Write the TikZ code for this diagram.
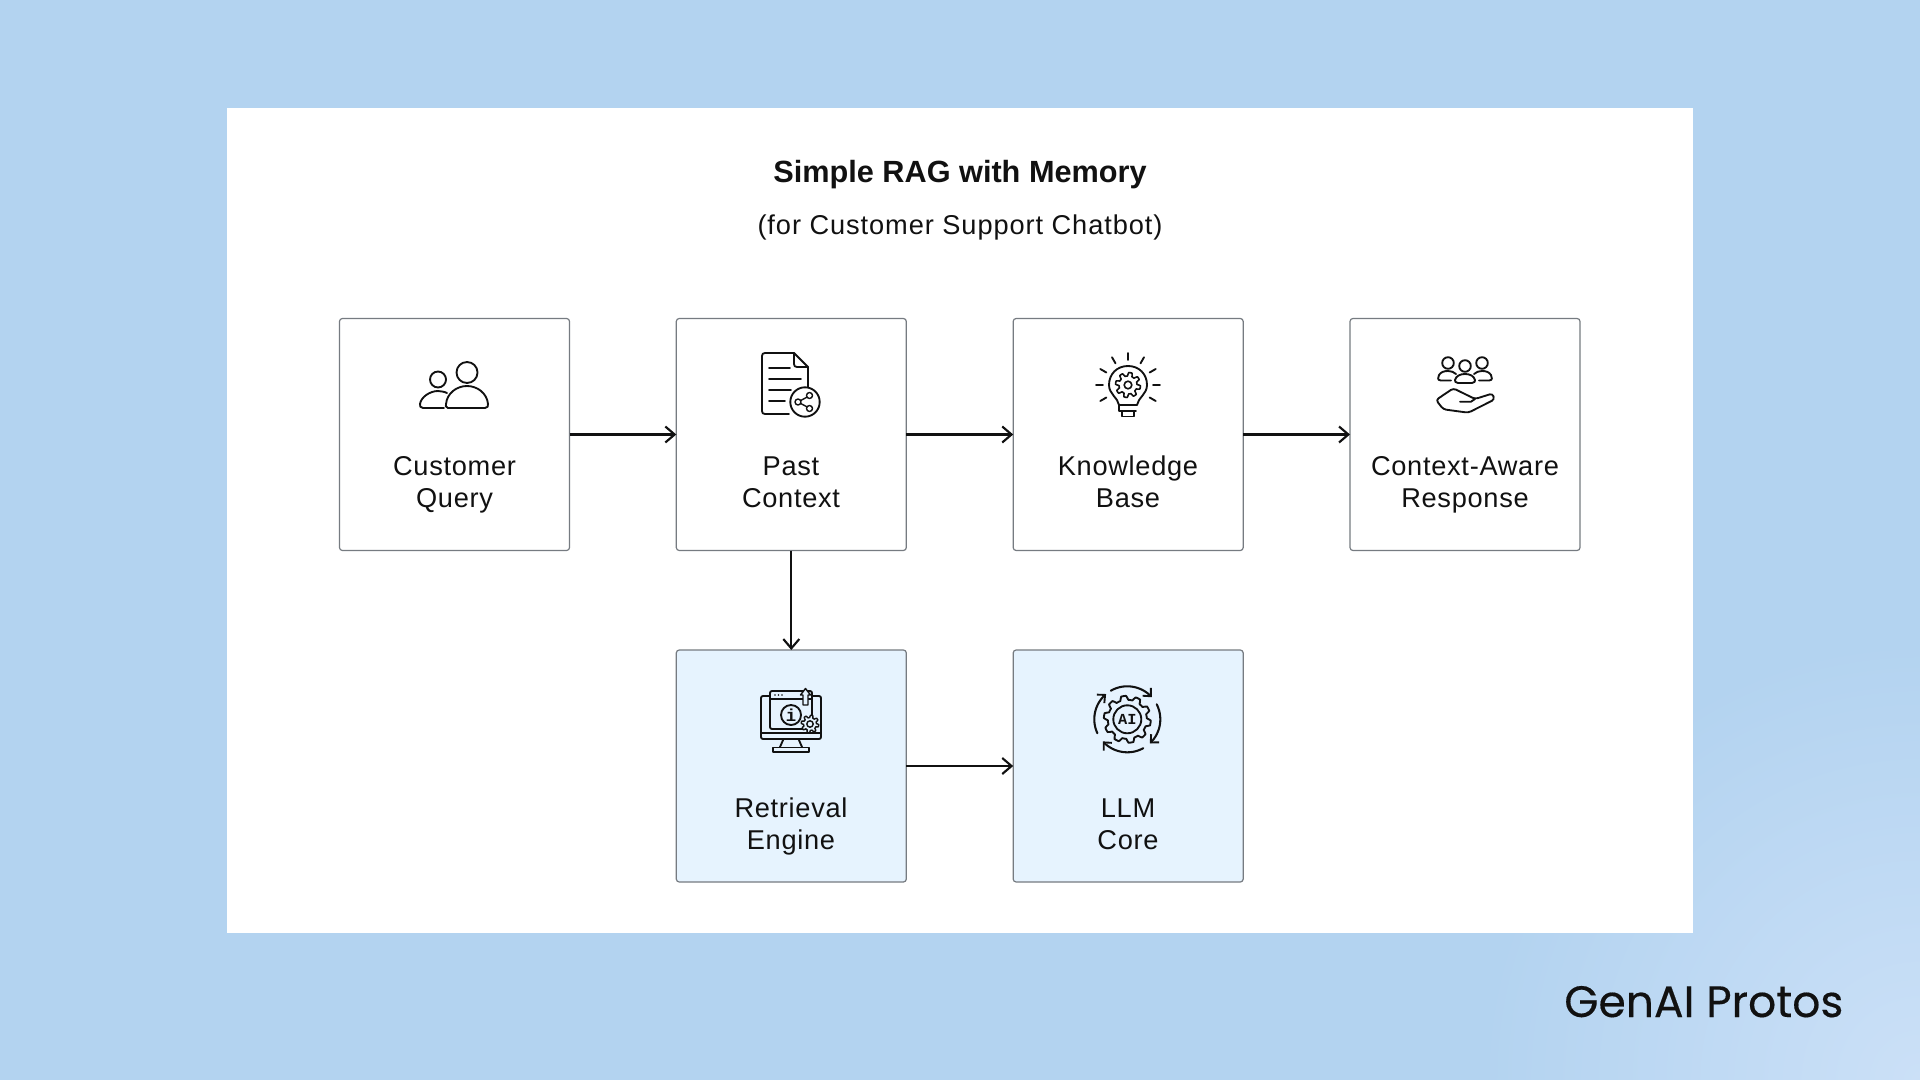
\documentclass[tikz,border=0pt]{standalone}
\usepackage{fontspec}
\setmainfont{Liberation Sans}
\setmonofont{Liberation Mono}
\newfontfamily\logofont[FakeBold=0.35]{Poppins}
\newfontfamily\labelfont[LetterSpace=2.6]{Liberation Sans}
\newfontfamily\subfont[LetterSpace=3.4]{Liberation Sans}
\usetikzlibrary{arrows.meta}
\definecolor{bgblue}{RGB}{179,211,240}
\definecolor{cornerblue}{RGB}{203,224,247}
\definecolor{lowbox}{RGB}{230,243,254}
\definecolor{edgegray}{RGB}{118,123,129}
\definecolor{inkc}{RGB}{17,17,17}
\tikzset{
  x=0.75pt,y=-0.75pt,
  boxbase/.style={draw=edgegray,line width=0.9pt,rounded corners=2.2pt,minimum width=172.5pt,minimum height=174pt,outer sep=0pt,inner sep=0pt},
  topbox/.style={boxbase,fill=white},
  lowerbox/.style={boxbase,fill=lowbox},
  lbl/.style={text=inkc,font=\labelfont\fontsize{20.4pt}{24pt}\selectfont,anchor=base,inner sep=0pt},
  conn/.style={draw=inkc,line width=1.7pt,-{Straight Barb[length=7pt,width=12pt,line width=1.6pt]}},
  icon/.style={draw=inkc,line width=1.4pt,line cap=round,line join=round},
  thinicon/.style={draw=inkc,line width=1.05pt,line cap=round,line join=round},
}
% #1 x, #2 y, #3 outer radius, #4 root radius, #5 teeth, #6 style
\newcommand{\gearicon}[6]{%
  \draw[#6] plot[domain=0:360,samples=\numexpr #5*12+1\relax]
    ({#1+(#4+(#3-#4)*max(0,min(1,0.5+1.6*sin(#5*\x))))*cos(\x)},
     {#2+(#4+(#3-#4)*max(0,min(1,0.5+1.6*sin(#5*\x))))*sin(\x)}) -- cycle;}
% #1 start angle, #2 end angle (both y up), about the AI icon
\newcommand{\aiarc}[2]{%
  \draw[icon,line width=1.55pt,-{Straight Barb[length=4.5pt,width=8.5pt,line width=1.4pt]}]
    plot[domain=#1:#2,samples=30] ({1127.3+33*cos(\x)},{719.3-33*sin(\x)});}
\begin{document}
\begin{tikzpicture}
\useasboundingbox (0,0) rectangle (1920,1080);
\begin{scope}
\clip (0,0) rectangle (1920,1080);
\fill[bgblue] (0,0) rectangle (1920,1080);
\shade[inner color=cornerblue,outer color=bgblue] (1920,1080) circle (440);
\end{scope}
\fill[white] (226.5,108) rectangle (1693,933);

\node[anchor=base,inner sep=0pt,text=inkc,font=\fontsize{23pt}{28pt}\selectfont\bfseries] (title) at (960,182.5) {Simple RAG with Memory};
\node[anchor=base,inner sep=0pt,text=inkc,font=\subfont\fontsize{20.4pt}{24pt}\selectfont] (subtitle) at (960,234.5) {(for Customer Support Chatbot)};

\node[topbox] (query) at (454.5,434.5) {};
\node[topbox] (past) at (791.3,434.5) {};
\node[topbox] (kb) at (1128.2,434.5) {};
\node[topbox] (resp) at (1465,434.5) {};
\node[lowerbox] (retr) at (791.3,766) {};
\node[lowerbox] (llm) at (1128.2,766) {};

\node[lbl] (t1a) at (454.5,475) {Customer};
\node[lbl] (t1b) at (454.5,507) {Query};
\node[lbl] (t2a) at (791,475) {Past};
\node[lbl] (t2b) at (791,507) {Context};
\node[lbl] (t3a) at (1128,475) {Knowledge};
\node[lbl] (t3b) at (1128,507) {Base};
\node[lbl] (t4a) at (1465,475) {Context-Aware};
\node[lbl] (t4b) at (1465,507) {Response};
\node[lbl] (t5a) at (791,817) {Retrieval};
\node[lbl] (t5b) at (791,849) {Engine};
\node[lbl] (t6a) at (1128,817) {LLM};
\node[lbl] (t6b) at (1128,849) {Core};

\draw[conn] (query.east) -- (past.west);
\draw[conn] (past.east) -- (kb.west);
\draw[conn] (kb.east) -- (resp.west);
\draw[conn] (past.south) -- (retr.north);
\draw[conn] (retr.east) -- (llm.west);

% people icon
\draw[icon] (467,372.5) circle (10.5);
\draw[icon] (438,379.5) circle (8);
\draw[icon] (448,408) .. controls (445,408) and (446,405) .. (446,404)
  .. controls (447,393) and (457,386) .. (467,386)
  .. controls (477,386) and (487,393) .. (488,404)
  .. controls (488,406) and (488,408) .. (485,408) -- cycle;
\draw[icon] (444,408) -- (423,408) .. controls (420,408) and (420,406) .. (420,404)
  .. controls (421,397) and (430,391) .. (438,391) .. controls (441,391) and (445,392) .. (447,393);

% document icon
\draw[icon] (789,414) -- (765,414) .. controls (763,414) and (762,413) .. (762,411)
  -- (762,356) .. controls (762,354) and (763,353) .. (765,353) -- (794,353) -- (808,367) -- (808,387);
\draw[icon] (794,353) -- (794,364) .. controls (794,366) and (795,367) .. (797,367) -- (808,367);
\draw[icon] (769,367.7) -- (790,367.7);
\draw[icon] (769,379) -- (801,379);
\draw[icon] (769,390) -- (791,390);
\draw[icon] (769,401) -- (785,401);
\draw[icon] (805,402) circle (14.7);
\draw[thinicon] (809,396) -- (798,402) -- (809,408);
\draw[thinicon,fill=white] (809.5,395.5) circle (3);
\draw[thinicon,fill=white] (798,402) circle (3);
\draw[thinicon,fill=white] (809.5,408.5) circle (3);

% bulb icon
\draw[icon] (1119,405) .. controls (1118,398) and (1109,394) .. (1109,385)
  .. controls (1109,374) and (1117,366) .. (1128,366)
  .. controls (1139,366) and (1147,374) .. (1147,385)
  .. controls (1147,394) and (1138,398) .. (1137,405) -- cycle;
\gearicon{1128}{385}{12.5}{9}{8}{thinicon,line width=1.2pt}
\draw[thinicon,line width=1.2pt] (1128,385) circle (3.8);
\draw[icon] (1119,405) -- (1119,411) -- (1136,411);
\draw[icon] (1122,411) -- (1122,416.5) -- (1134,416.5) -- (1134,411);
\foreach \a in {0,30,60,90,120,150,180,210,-30}
  \draw[icon] ({1128+25*cos(\a)},{385-25*sin(\a)}) -- ({1128+32*cos(\a)},{385-32*sin(\a)});

% hand and people icon
\draw[icon] (1448,363) circle (5.8);
\draw[icon] (1465,366) circle (5.8);
\draw[icon] (1482,363) circle (5.8);
\draw[icon] (1451,380.5) -- (1441,380.5) .. controls (1437,380.5) and (1438,377) .. (1439,375) .. controls (1441,372) and (1444,371) .. (1448,371) .. controls (1451,371) and (1454,372) .. (1456,374);
\draw[icon] (1479,380.5) -- (1489,380.5) .. controls (1493,380.5) and (1492,377) .. (1491,375) .. controls (1489,372) and (1486,371) .. (1482,371) .. controls (1479,371) and (1476,372) .. (1474,374);
\draw[icon] (1458,383) .. controls (1455,383) and (1455,381) .. (1455,380) .. controls (1456,376) and (1460,374) .. (1465,374) .. controls (1470,374) and (1474,376) .. (1475,380) .. controls (1475,381) and (1475,383) .. (1472,383) -- cycle;
\draw[icon,rounded corners=2.2pt] (1436,400) -- (1453.3,388.3) -- (1475,399) -- (1492.5,393.5) -- (1494.5,399.5) -- (1468.3,412.7) -- (1443.3,409.3) -- cycle;
\draw[icon] (1460,401.7) -- (1471,401.7) -- (1475,399);

% retrieval icon
\draw[icon,rounded corners=1.5pt] (761,696) rectangle (821,739);
\draw[icon] (761,733) -- (821,733);
\draw[icon,fill=lowbox,rounded corners=1.5pt] (770,691) rectangle (812,729);
\draw[thinicon] (770,699) -- (812,699);
\foreach \x in {775,778.5,782}
  \fill[inkc] (\x,695) circle (0.9);
\draw[thinicon,fill=lowbox] (803,705) -- (803,695) -- (800.5,695) -- (805.5,688.5) -- (810.5,695) -- (808,695) -- (808,705) -- cycle;
\draw[icon,fill=lowbox] (791,715) circle (10);
\node[inner sep=0pt,text=inkc,font=\fontsize{13pt}{13pt}\selectfont\ttfamily\bfseries] (infoi) at (791,715) {i};
\gearicon{810}{724}{8.8}{6.4}{8}{thinicon,fill=lowbox}
\draw[thinicon] (810,724) circle (3.2);
\draw[icon] (783.5,739) -- (780,747);
\draw[icon] (798.5,739) -- (802,747);
\draw[icon] (773,747.5) rectangle (809,752);

% AI icon
\gearicon{1127.3}{719.3}{23.5}{19.5}{10}{icon}
\draw[icon] (1127.3,719.3) circle (14);
\node[inner sep=0pt,text=inkc,font=\fontsize{11.5pt}{12pt}\selectfont\ttfamily\bfseries] (aitext) at (1127.3,719.3) {AI};
\aiarc{120}{42}
\aiarc{27}{-47}
\aiarc{-61}{-138}
\aiarc{205}{130}

% logo
\node[anchor=base west,inner sep=0pt,text=inkc,font=\logofont\fontsize{33pt}{40pt}\selectfont] (logo) at (1564,1017) {GenAI Protos};
\end{tikzpicture}
\end{document}
